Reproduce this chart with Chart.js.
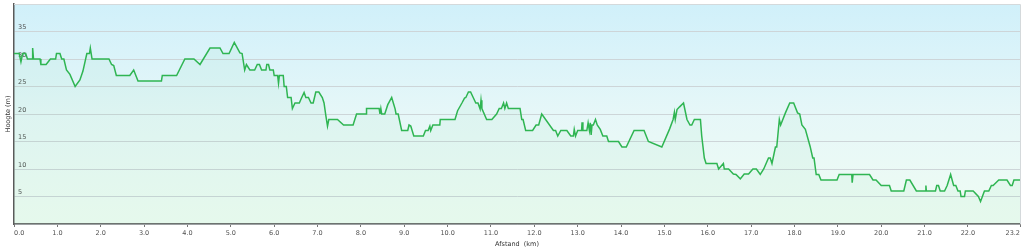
<!DOCTYPE html>
<html>
<head>
<meta charset="utf-8">
<script src="https://cdn.jsdelivr.net/npm/chart.js@4"></script>
<style>
    html, body { margin: 0; padding: 0; background: #ffffff; }
    canvas { display: block; }
</style>
</head>
<body>
<canvas id="hoogteProfiel" width="1023" height="248"></canvas>
<script>
const afstandKm = [
    0.00, 0.12, 0.16, 0.20, 0.27, 0.31, 0.42, 0.43, 0.45, 0.60, 0.62, 0.74, 0.84, 0.96, 0.98, 1.06, 1.10, 1.15,
    1.21, 1.29, 1.41, 1.52, 1.59, 1.68, 1.74, 1.76, 1.80, 2.19, 2.25, 2.30, 2.36, 2.67, 2.76, 2.86, 3.40, 3.42,
    3.75, 3.94, 4.15, 4.29, 4.52, 4.75, 4.82, 4.96, 5.08, 5.21, 5.26, 5.32, 5.36, 5.44, 5.55, 5.61, 5.66, 5.71,
    5.81, 5.83, 5.87, 5.90, 5.98, 6.00, 6.08, 6.10, 6.12, 6.21, 6.23, 6.28, 6.31, 6.39, 6.42, 6.48, 6.58, 6.63,
    6.69, 6.73, 6.79, 6.85, 6.90, 6.96, 7.03, 7.11, 7.15, 7.19, 7.23, 7.26, 7.46, 7.60, 7.82, 7.90, 8.12, 8.13,
    8.42, 8.44, 8.46, 8.48, 8.55, 8.62, 8.71, 8.79, 8.81, 8.86, 8.94, 9.08, 9.11, 9.15, 9.22, 9.44, 9.49, 9.55,
    9.59, 9.61, 9.66, 9.82, 9.83, 10.17, 10.23, 10.33, 10.39, 10.42, 10.48, 10.53, 10.59, 10.65, 10.70, 10.75, 10.77, 10.79,
    10.90, 11.02, 11.13, 11.19, 11.24, 11.29, 11.32, 11.36, 11.40, 11.67, 11.71, 11.74, 11.80, 11.96, 12.04, 12.10, 12.17, 12.44,
    12.49, 12.54, 12.61, 12.75, 12.84, 12.90, 12.92, 12.95, 13.00, 13.09, 13.10, 13.12, 13.21, 13.24, 13.27, 13.29, 13.31, 13.33,
    13.36, 13.41, 13.45, 13.52, 13.58, 13.67, 13.71, 13.94, 14.02, 14.12, 14.30, 14.53, 14.63, 14.94, 15.12, 15.20, 15.23, 15.25,
    15.29, 15.35, 15.44, 15.52, 15.59, 15.63, 15.69, 15.83, 15.86, 15.92, 15.96, 16.21, 16.25, 16.36, 16.38, 16.48, 16.59, 16.65,
    16.75, 16.84, 16.94, 17.04, 17.12, 17.21, 17.29, 17.40, 17.44, 17.48, 17.56, 17.59, 17.65, 17.68, 17.79, 17.89, 17.98, 18.07,
    18.12, 18.17, 18.25, 18.36, 18.42, 18.45, 18.50, 18.56, 18.61, 18.98, 19.03, 19.32, 19.33, 19.35, 19.73, 19.81, 19.88, 20.00,
    20.19, 20.23, 20.52, 20.58, 20.66, 20.81, 21.02, 21.03, 21.04, 21.25, 21.28, 21.32, 21.36, 21.46, 21.52, 21.60, 21.67, 21.72,
    21.77, 21.82, 21.84, 21.92, 21.94, 22.12, 22.24, 22.29, 22.38, 22.48, 22.54, 22.58, 22.71, 22.90, 22.98, 23.02, 23.06, 23.20
];

const hoogteM = [
    31, 31, 29.5, 31, 31, 30, 30, 32, 30, 30, 29, 29, 30, 30, 31, 31, 30, 30,
    28, 27.2, 25, 26.2, 27.8, 31, 31, 32, 30, 30, 29, 28.8, 27, 27, 28, 26, 26, 27,
    27, 30, 30, 29, 32, 32, 31, 31, 33, 31.1, 31, 28, 29, 28, 28, 29, 29, 28,
    28, 29, 29, 28, 28, 27, 27, 25.6, 27, 27, 25, 25, 23, 23, 21, 22, 22, 22.9,
    23.9, 23, 23, 22, 22, 24, 24, 23, 22, 19.8, 17.8, 19, 19, 18, 18, 20, 20, 21,
    21, 20, 21, 20, 20, 21.7, 23, 20.9, 20, 20, 17, 17, 18, 17.8, 16, 16, 17, 17,
    17.8, 17, 18, 18, 19, 19, 20.6, 22, 22.9, 23, 24, 24, 23, 22, 22, 20.9, 22.5, 21,
    19, 19, 20, 21, 21, 22, 21, 22, 21, 21, 19, 19, 17, 17, 18, 18, 20, 17,
    17, 16, 17, 17, 16, 16, 17.2, 16, 17, 17, 18.5, 17, 17, 18.4, 17, 18.4, 16.2, 18,
    18, 19, 18, 17.2, 16, 16, 15, 15, 14, 14, 17, 17, 15, 14, 17.3, 19, 20.3, 19,
    20.8, 21.3, 22, 19, 18, 18, 19, 19, 16, 12, 11, 11, 10, 11, 10, 10, 9.1, 9,
    8.2, 9.1, 9.1, 10, 10, 9, 10, 12, 12, 11, 14, 14, 19, 18, 20.2, 22, 22, 20.2,
    20, 18, 17.2, 14.1, 12, 12, 9, 9, 8, 8, 9, 9, 7.5, 9, 9, 8, 8, 7,
    7, 6, 6, 8, 8, 6, 6, 7, 6, 6, 7, 7, 6, 6, 7, 9, 7, 7,
    6, 6, 5, 5, 6, 6, 5, 4.1, 6, 6, 7, 7, 8, 8, 7, 7, 8, 8
];

const hoogteMin = 0;
const hoogteMax = 40;
const hoogteStap = 5;
const afstandStap = 1;

const lettertype = { family: "'DejaVu Sans', Verdana, sans-serif", size: 6.5 };

// achtergrond met verloop en lichte rand boven/rechts
const achtergrondPlugin = {
    id: "achtergrond",
    beforeDraw(chart) {
        const { ctx, chartArea: a } = chart;
        const verloop = ctx.createLinearGradient(0, a.top, 0, a.bottom);
        verloop.addColorStop(0, "#d0f0fa");
        verloop.addColorStop(0.5, "#e6f7f8");
        verloop.addColorStop(1, "#effcf3");
        ctx.save();
        ctx.fillStyle = verloop;
        ctx.fillRect(a.left, a.top, a.right - a.left, a.bottom - a.top);
        ctx.restore();
    },
    afterDraw(chart) {
        const { ctx, chartArea: a } = chart;
        ctx.save();
        ctx.strokeStyle = "#d4d9db";
        ctx.lineWidth = 1;
        ctx.beginPath();
        ctx.moveTo(a.left, a.top + 0.5);
        ctx.lineTo(a.right + 0.5, a.top + 0.5);
        ctx.lineTo(a.right + 0.5, a.bottom);
        ctx.stroke();
        ctx.restore();
    }
};

new Chart(document.getElementById("hoogteProfiel"), {
    type: "line",
    data: {
        datasets: [{
            data: afstandKm.map((km, i) => ({ x: km, y: hoogteM[i] })),
            borderColor: "#2fb552",
            borderWidth: 1.5,
            backgroundColor: "rgba(80, 210, 130, 0.06)",
            fill: "origin",
            pointRadius: 0,
            tension: 0
        }]
    },
    options: {
        responsive: false,
        animation: false,
        devicePixelRatio: 1,
        layout: { padding: { top: 4, right: 3, left: 0, bottom: 0 } },
        plugins: {
            legend: { display: false },
            tooltip: { enabled: false }
        },
        scales: {
            x: {
                type: "linear",
                min: 0,
                max: 23.2,
                afterFit: (scale) => {
                    scale.height = 24;
                    scale.paddingLeft = 0;
                    scale.paddingRight = 0;
                },
                ticks: {
                    stepSize: afstandStap,
                    autoSkip: false,
                    maxRotation: 0,
                    align: "inner",
                    padding: 2,
                    color: "#505050",
                    font: lettertype,
                    callback: (v) => Number(v).toFixed(1)
                },
                grid: { drawOnChartArea: false, drawTicks: true, tickLength: 3, color: "#777777" },
                border: { display: true, color: "#6e6e6e", width: 1.5 },
                title: {
                    display: true,
                    text: "Afstand  (km)",
                    color: "#333333",
                    font: lettertype,
                    padding: { top: 0, bottom: 0 }
                }
            },
            y: {
                min: hoogteMin,
                max: hoogteMax,
                afterFit: (scale) => {
                    scale.width = 14;
                    scale.paddingTop = 0;
                    scale.paddingBottom = 0;
                },
                ticks: {
                    stepSize: hoogteStap,
                    mirror: true,
                    padding: 4,
                    labelOffset: -4,
                    color: "#505050",
                    font: lettertype,
                    callback: (v) => (v === hoogteMin || v === hoogteMax) ? "" : v
                },
                grid: { drawTicks: false, color: "#cdd5d8", lineWidth: 1 },
                border: { display: true, color: "#5a5a5a", width: 1.5 },
                title: {
                    display: true,
                    text: "Hoogte (m)",
                    color: "#333333",
                    font: lettertype,
                    padding: { top: 4, bottom: 0 }
                }
            }
        }
    },
    plugins: [achtergrondPlugin]
});
</script>
</body>
</html>
